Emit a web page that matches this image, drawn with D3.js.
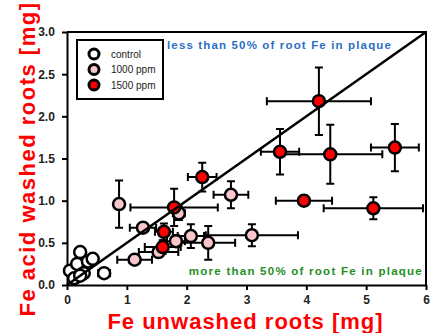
<!DOCTYPE html>
<html>
<head>
<meta charset="utf-8">
<script src="https://cdn.jsdelivr.net/npm/d3@7"></script>
<style>
	body { margin: 0; background: #fff; }
	text { font-family: Arial, "Liberation Sans", sans-serif; }
</style>
</head>
<body>
<div id="chart"></div>
<script>

// series values: x, y, x error, y error
var controlX    = [0.05, 0.17, 0.22, 0.35, 0.43, 0.62, 0.28, 0.12, 0.22];
var controlY    = [0.17, 0.25, 0.39, 0.28, 0.31, 0.14, 0.14, 0.08, 0.11];
var controlXErr = [0.03, 0.03, 0.03, 0.04, 0.04, 0.10, 0.03, 0.02, 0.02];
var controlYErr = [0.02, 0.02, 0.03, 0.03, 0.03, 0.02, 0.02, 0.02, 0.02];

var ppm1000X    = [0.87, 2.74, 1.87, 1.27, 2.07, 1.82, 2.36, 3.09, 1.13, 1.53];
var ppm1000Y    = [0.96, 1.07, 0.85, 0.68, 0.58, 0.52, 0.50, 0.59, 0.30, 0.39];
var ppm1000XErr = [0.04, 0.29, 0.10, 0.22, 0.22, 0.15, 0.45, 0.77, 0.29, 0.33];
var ppm1000YErr = [0.28, 0.16, 0.08, 0.05, 0.14, 0.07, 0.20, 0.13, 0.05, 0.05];

var ppm1500X    = [4.21, 3.56, 4.40, 5.48, 3.96, 5.12, 2.26, 1.79, 1.62, 1.60];
var ppm1500Y    = [2.18, 1.58, 1.55, 1.63, 1.00, 0.91, 1.28, 0.92, 0.63, 0.45];
var ppm1500XErr = [0.87, 0.32, 0.87, 0.40, 0.47, 0.83, 0.24, 0.73, 0.15, 0.30];
var ppm1500YErr = [0.40, 0.27, 0.35, 0.28, 0.06, 0.13, 0.17, 0.22, 0.10, 0.08];

var seriesNames  = ["control", "1000 ppm", "1500 ppm"];
var seriesFills  = ["#ffffff", "#f9c6cc", "#ff0000"];

var xTicks = [0, 1, 2, 3, 4, 5, 6];
var yTicks = [0.0, 0.5, 1.0, 1.5, 2.0, 2.5, 3.0];

// 50% line: washed = 0.5 * unwashed
var lineX = [0, 6];
var lineY = [0, 3];

var aboveText = "less than 50% of root Fe in plaque";
var belowText = "more than 50% of root Fe in plaque";
var xTitle = "Fe unwashed roots [mg]";
var yTitle = "Fe acid washed roots [mg]";

var makeSeries = function(xs, ys, xe, ye) {
	return xs.map(function(d, i) {
		return { x: d, y: ys[i], xe: xe[i], ye: ye[i] };
	});
};

var series = [
	makeSeries(controlX, controlY, controlXErr, controlYErr),
	makeSeries(ppm1000X, ppm1000Y, ppm1000XErr, ppm1000YErr),
	makeSeries(ppm1500X, ppm1500Y, ppm1500XErr, ppm1500YErr)
];

var margin = {left: 67, top: 32, right: 12, bottom: 48},
	W = 438, H = 333,
	width = W - margin.left - margin.right,
	height = H - margin.top - margin.bottom;

var x = d3.scaleLinear().domain([0, 6]).range([0, width]);
var y = d3.scaleLinear().domain([0, 3]).range([height, 0]);

var svg = d3.select("#chart").append("svg")
	.attr("width", W)
	.attr("height", H);

var g = svg.append("g")
	.attr("transform", "translate(" + margin.left + "," + margin.top + ")");

// frame (top & right)
g.append("path")
	.attr("d", "M0,0H" + width + "V" + height)
	.attr("fill", "none")
	.attr("stroke", "#000")
	.attr("stroke-width", 2);

// axes
var xAxis = d3.axisBottom(x).tickValues(xTicks).tickFormat(d3.format("d")).tickSize(5).tickSizeOuter(0);
var yAxis = d3.axisLeft(y).tickValues(yTicks).tickFormat(d3.format(".1f")).tickSize(5).tickSizeOuter(0);

g.append("g")
	.attr("class", "x axis")
	.attr("transform", "translate(0," + height + ")")
	.call(xAxis);
g.append("g")
	.attr("class", "y axis")
	.call(yAxis);

g.selectAll(".axis path, .axis line")
	.attr("stroke", "#000")
	.attr("stroke-width", 2);
g.selectAll(".axis text")
	.attr("font-size", 12)
	.attr("font-weight", "bold")
	.attr("fill", "#222");
g.selectAll(".x.axis text").attr("dy", "0.95em");
g.selectAll(".y.axis text").attr("dx", "-0.35em");

// error bars then markers
var CAP = 4;
series.forEach(function(s, k) {
	var eg = g.append("g").attr("class", "err s" + k)
		.attr("stroke", "#000").attr("stroke-width", 2).attr("fill", "none");
	s.forEach(function(d) {
		var cx = x(d.x), cy = y(d.y),
			x0 = x(d.x - d.xe), x1 = x(d.x + d.xe),
			y0 = y(d.y - d.ye), y1 = y(d.y + d.ye);
		eg.append("path")
			.attr("d", "M" + x0 + "," + cy + "H" + x1 +
				"M" + x0 + "," + (cy - CAP) + "V" + (cy + CAP) +
				"M" + x1 + "," + (cy - CAP) + "V" + (cy + CAP) +
				"M" + cx + "," + y0 + "V" + y1 +
				"M" + (cx - CAP) + "," + y0 + "H" + (cx + CAP) +
				"M" + (cx - CAP) + "," + y1 + "H" + (cx + CAP));
	});
});

series.forEach(function(s, k) {
	g.append("g").attr("class", "pts s" + k)
		.selectAll("circle")
		.data(s)
		.enter()
		.append("circle")
		.attr("cx", function(d) { return x(d.x); })
		.attr("cy", function(d) { return y(d.y); })
		.attr("r", 6)
		.attr("fill", seriesFills[k])
		.attr("stroke", "#000")
		.attr("stroke-width", 2.5);
});

// 50% line
g.append("line")
	.attr("x1", x(lineX[0])).attr("y1", y(lineY[0]))
	.attr("x2", x(lineX[1])).attr("y2", y(lineY[1]))
	.attr("stroke", "#000")
	.attr("stroke-width", 2.5);

// region labels
g.append("text")
	.attr("x", 100).attr("y", 17)
	.attr("font-size", 11.5).attr("font-weight", "bold")
	.attr("letter-spacing", 1.15)
	.attr("fill", "#2a6fc4")
	.text(aboveText);
g.append("text")
	.attr("x", width - 3).attr("y", 243)
	.attr("text-anchor", "end")
	.attr("font-size", 11.5).attr("font-weight", "bold")
	.attr("letter-spacing", 1.25)
	.attr("fill", "#1f8f1f")
	.text(belowText);

// legend
var lg = g.append("g").attr("transform", "translate(10,8)");
lg.append("rect")
	.attr("width", 86).attr("height", 59)
	.attr("fill", "#fff")
	.attr("stroke", "#000").attr("stroke-width", 2);
seriesNames.forEach(function(name, k) {
	lg.append("circle")
		.attr("cx", 17).attr("cy", 14 + k * 15.5)
		.attr("r", 5)
		.attr("fill", seriesFills[k])
		.attr("stroke", "#000").attr("stroke-width", 3);
	lg.append("text")
		.attr("x", 34).attr("y", 14 + k * 15.5)
		.attr("dy", "0.35em")
		.attr("font-size", 10)
		.attr("fill", "#222")
		.text(name);
});

// axis titles
svg.append("text")
	.attr("x", margin.left + width / 2 - 1).attr("y", 329)
	.attr("text-anchor", "middle")
	.attr("font-size", 22).attr("font-weight", "bold")
	.attr("letter-spacing", 1)
	.attr("fill", "#ff0000")
	.text(xTitle);
svg.append("text")
	.attr("transform", "translate(35,159)rotate(-90)")
	.attr("text-anchor", "middle")
	.attr("font-size", 22).attr("font-weight", "bold")
	.attr("letter-spacing", 1.5)
	.attr("fill", "#ff0000")
	.text(yTitle);

</script>
</body>
</html>
